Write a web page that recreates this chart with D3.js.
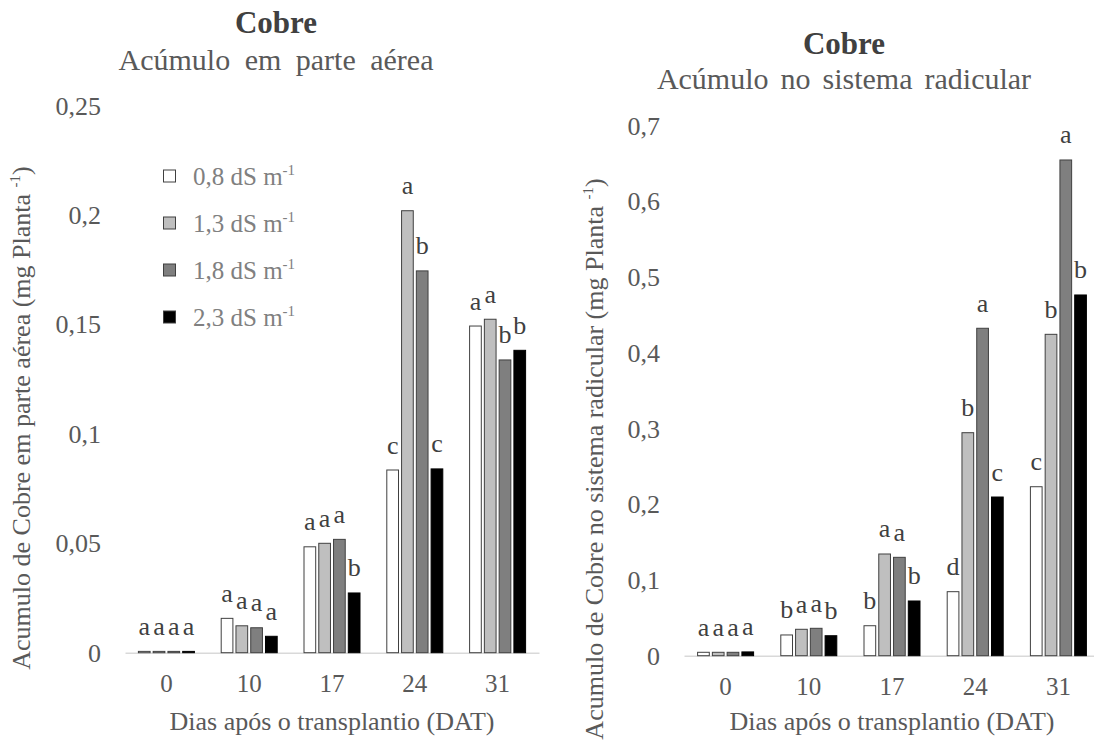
<!DOCTYPE html>
<html>
<head>
<meta charset="utf-8">
<script src="https://cdn.jsdelivr.net/npm/d3@7/dist/d3.min.js"></script>
<style>
  html, body { margin: 0; padding: 0; background: #fff; }
  svg text { font-family: "Liberation Serif", "Times New Roman", Tinos, "DejaVu Serif", serif !important; }
</style>
</head>
<body>
<svg id="chart" width="1094" height="740"></svg>
<script>
// Days after transplanting (DAT)
const categories = ["0", "10", "17", "24", "31"];

// Salinity levels of the nutrient solution
const levels = ["0,8", "1,3", "1,8", "2,3"];

// Copper accumulated in the shoot (mg per plant), one array per level
const shoot08 = [0.0006, 0.0157, 0.0484, 0.0835, 0.1493];
const shoot13 = [0.0006, 0.0123, 0.0500, 0.2020, 0.1524];
const shoot18 = [0.0006, 0.0114, 0.0518, 0.1745, 0.1338];
const shoot23 = [0.0006, 0.0075, 0.0273, 0.0840, 0.1382];

// Mean-comparison letters for the shoot, per level
const shootLet08 = ["a", "a", "a", "c", "a"];
const shootLet13 = ["a", "a", "a", "a", "a"];
const shootLet18 = ["a", "a", "a", "b", "b"];
const shootLet23 = ["a", "a", "b", "c", "b"];

// Copper accumulated in the root system (mg per plant), one array per level
const root08 = [0.0045, 0.0274, 0.0396, 0.0846, 0.2233];
const root13 = [0.0045, 0.0349, 0.1344, 0.2947, 0.4247];
const root18 = [0.0045, 0.0362, 0.1300, 0.4327, 0.6551];
const root23 = [0.0050, 0.0264, 0.0723, 0.2097, 0.4767];

// Mean-comparison letters for the root system, per level
const rootLet08 = ["a", "b", "b", "d", "c"];
const rootLet13 = ["a", "a", "a", "b", "b"];
const rootLet18 = ["a", "a", "a", "a", "a"];
const rootLet23 = ["a", "b", "b", "c", "b"];

// Y axis tick values
const shootTicks = [0, 0.05, 0.1, 0.15, 0.2, 0.25];
const rootTicks = [0, 0.1, 0.2, 0.3, 0.4, 0.5, 0.6, 0.7];

const fills = ["#ffffff", "#bfbfbf", "#7f7f7f", "#000000"];
const TEXT = "#595959";

const ptBR = d3.formatLocale({ decimal: ",", thousands: ".", grouping: [3], currency: ["R$", ""] });
const fmt = ptBR.format("~g");

const svg = d3.select("#chart");

function panel(opts) {
  const g = svg.append("g");
  const x0 = d3.scaleBand().domain(categories).range(opts.xRange);
  const x1 = d3.scaleBand().domain(d3.range(levels.length))
    .range([0, 57]).paddingInner(0.14).paddingOuter(0);
  const y = d3.scaleLinear().domain(opts.yDomain).range([opts.y0, opts.yTop]);
  const groupOffset = (x0.bandwidth() - 57) / 2;

  // Category axis: light baseline and day labels
  const xAxis = g.append("g")
    .attr("transform", `translate(0,${opts.y0})`)
    .call(d3.axisBottom(x0).tickSize(0).tickSizeOuter(0).tickPadding(22));
  xAxis.select(".domain").attr("stroke", "#d9d9d9").attr("stroke-width", 1.6);
  xAxis.selectAll("text").attr("font-size", 25).attr("fill", TEXT);

  // Value axis: labels only
  const yAxis = g.append("g")
    .attr("transform", `translate(${opts.yAxisX},0)`)
    .call(d3.axisLeft(y).tickValues(opts.ticks).tickFormat(fmt).tickSize(0).tickPadding(0));
  yAxis.select(".domain").remove();
  yAxis.selectAll("text").attr("font-size", 26).attr("fill", TEXT);

  // Bars
  const rows = [];
  opts.series.forEach((vals, s) => {
    vals.forEach((v, i) => rows.push({ cat: categories[i], s, v, lab: opts.letters[s][i] }));
  });
  const bx = d => x0(d.cat) + groupOffset + x1(d.s);

  g.selectAll("rect.bar").data(rows).join("rect")
    .attr("class", "bar")
    .attr("x", d => bx(d) + 0.5)
    .attr("y", d => y(d.v))
    .attr("width", x1.bandwidth() - 1)
    .attr("height", d => y(0) - y(d.v))
    .attr("fill", d => fills[d.s])
    .attr("stroke", d => d.s === 3 ? "#000" : "#404040")
    .attr("stroke-width", 1);

  // Letters above bars
  g.selectAll("text.lab").data(rows).join("text")
    .attr("class", "lab")
    .attr("x", d => bx(d) + x1.bandwidth() / 2)
    .attr("y", d => y(d.v) - 16.5)
    .attr("text-anchor", "middle")
    .attr("font-size", 26).attr("fill", "#404040")
    .text(d => d.lab);

  // Titles
  g.append("text")
    .attr("x", opts.titleX).attr("y", opts.titleY)
    .attr("text-anchor", "middle")
    .attr("font-size", 31).attr("font-weight", "bold").attr("fill", "#404040")
    .text("Cobre");
  g.append("text")
    .attr("x", opts.titleX).attr("y", opts.subY)
    .attr("text-anchor", "middle")
    .attr("font-size", 30).attr("fill", TEXT).attr("word-spacing", opts.wordSpacing)
    .text(opts.subtitle);

  // Axis titles
  g.append("text")
    .attr("x", (opts.xRange[0] + opts.xRange[1]) / 2).attr("y", 730)
    .attr("text-anchor", "middle")
    .attr("font-size", 26).attr("fill", TEXT)
    .text("Dias após o transplantio (DAT)");

  const yt = g.append("text")
    .attr("transform", `translate(${opts.yTitleX},${opts.yTitleY}) rotate(-90)`)
    .attr("text-anchor", "middle")
    .attr("font-size", 26).attr("fill", TEXT);
  yt.append("tspan").text(opts.yTitle + " (mg Planta ");
  yt.append("tspan").attr("font-size", 15).attr("dy", -10).text("-1");
  yt.append("tspan").attr("dy", 10).text(")");
}

panel({
  xRange: [125, 539], y0: 652.7, yTop: 105.7, yDomain: [0, 0.25], ticks: shootTicks,
  yAxisX: 101,
  series: [shoot08, shoot13, shoot18, shoot23],
  letters: [shootLet08, shootLet13, shootLet18, shootLet23],
  titleX: 276, titleY: 33, subY: 70, wordSpacing: 7,
  subtitle: "Acúmulo em parte aérea",
  yTitle: "Acumulo de Cobre em parte aérea", yTitleX: 30, yTitleY: 418
});

panel({
  xRange: [684, 1100], y0: 655.7, yTop: 126, yDomain: [0, 0.7], ticks: rootTicks,
  yAxisX: 660,
  series: [root08, root13, root18, root23],
  letters: [rootLet08, rootLet13, rootLet18, rootLet23],
  titleX: 844, titleY: 54, subY: 89, wordSpacing: 4.5,
  subtitle: "Acúmulo no sistema radicular",
  yTitle: "Acumulo de Cobre no sistema radicular", yTitleX: 603, yTitleY: 459
});

// Legend for the salinity levels
const legend = svg.append("g").attr("transform", "translate(163,176)");
const item = legend.selectAll("g").data(levels).join("g")
  .attr("transform", (d, i) => `translate(0,${i * 47})`);
item.append("rect")
  .attr("x", 0.5).attr("y", -6).attr("width", 12).attr("height", 12)
  .attr("fill", (d, i) => fills[i]).attr("stroke", "#404040").attr("stroke-width", 1);
const lt = item.append("text")
  .attr("x", 30).attr("y", 9)
  .attr("font-size", 25).attr("fill", "#808080");
lt.append("tspan").text(d => d + " dS m");
lt.append("tspan").attr("font-size", 15).attr("dy", -10).text("-1");
</script>
</body>
</html>
